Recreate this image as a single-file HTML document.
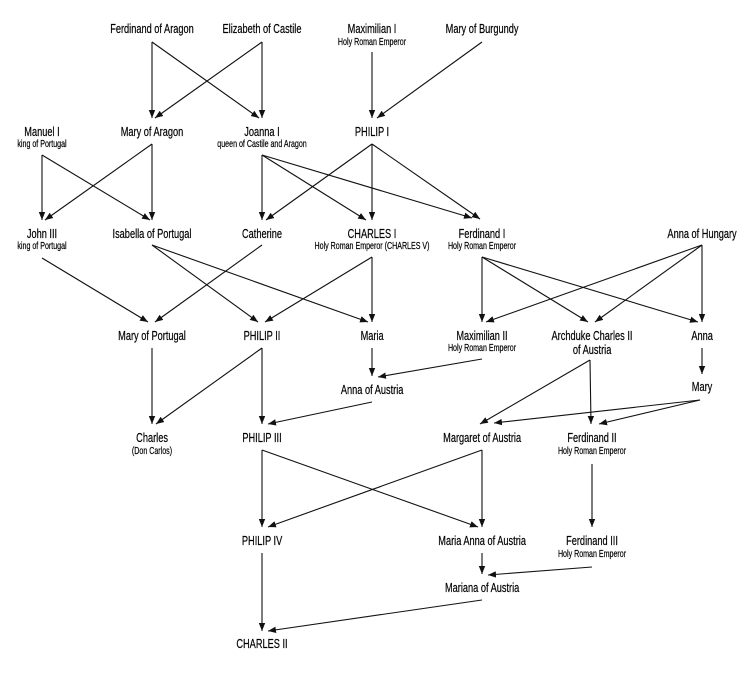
<!DOCTYPE html>
<html><head><meta charset="utf-8"><style>
html,body{margin:0;padding:0;background:#fff;}
svg{display:block;}
text{font-family:"Liberation Sans",sans-serif;fill:#000;text-anchor:middle;transform-box:fill-box;transform-origin:center;transform:scaleX(0.71);stroke:#000;stroke-width:0.2;}
.m{font-size:13px;}
.s{font-size:10px;}
line{stroke:#111;stroke-width:1.1;marker-end:url(#a);}
</style></head><body>
<svg width="750" height="677" viewBox="0 0 750 677" xmlns="http://www.w3.org/2000/svg">
<defs><marker id="a" viewBox="0 0 10 10" refX="10" refY="5" markerWidth="8" markerHeight="8" orient="auto" markerUnits="userSpaceOnUse"><path d="M0,1 L10,5 L0,9 z" fill="#111"/></marker></defs>

<line x1="152" y1="42" x2="152" y2="118"/>
<line x1="152" y1="42" x2="259" y2="118"/>
<line x1="262" y1="42" x2="155" y2="118"/>
<line x1="262" y1="42" x2="262" y2="118"/>
<line x1="372" y1="52" x2="372" y2="118"/>
<line x1="482" y1="42" x2="377" y2="118"/>

<line x1="42" y1="155" x2="42" y2="220"/>
<line x1="42" y1="155" x2="150" y2="220"/>
<line x1="152" y1="144" x2="45" y2="220"/>
<line x1="152" y1="144" x2="152" y2="220"/>
<line x1="262" y1="155" x2="262" y2="220"/>
<line x1="262" y1="155" x2="366" y2="220"/>
<line x1="262" y1="155" x2="472" y2="218"/>
<line x1="372" y1="144" x2="266" y2="220"/>
<line x1="372" y1="144" x2="372" y2="220"/>
<line x1="372" y1="144" x2="480" y2="219"/>

<line x1="42" y1="258" x2="148" y2="322"/>
<line x1="152" y1="245" x2="258" y2="322"/>
<line x1="152" y1="245" x2="368" y2="322"/>
<line x1="262" y1="245" x2="155" y2="322"/>
<line x1="372" y1="257" x2="265" y2="322"/>
<line x1="372" y1="257" x2="372" y2="322"/>
<line x1="482" y1="257" x2="482" y2="322"/>
<line x1="482" y1="257" x2="588" y2="322"/>
<line x1="482" y1="257" x2="698" y2="322"/>
<line x1="702" y1="245" x2="486" y2="322"/>
<line x1="702" y1="245" x2="595" y2="322"/>
<line x1="702" y1="245" x2="702" y2="322"/>

<line x1="372" y1="348" x2="372" y2="376"/>
<line x1="482" y1="359" x2="378" y2="377"/>
<line x1="702" y1="348" x2="702" y2="374"/>
<line x1="590" y1="360" x2="480" y2="424"/>
<line x1="590" y1="360" x2="591" y2="424"/>
<line x1="700" y1="400" x2="494" y2="423"/>
<line x1="700" y1="400" x2="599" y2="424"/>
<line x1="152" y1="348" x2="152" y2="424"/>
<line x1="262" y1="348" x2="156" y2="424"/>
<line x1="262" y1="348" x2="262" y2="424"/>
<line x1="372" y1="402" x2="268" y2="424"/>

<line x1="262" y1="450" x2="262" y2="527"/>
<line x1="262" y1="450" x2="478" y2="527"/>
<line x1="482" y1="450" x2="268" y2="527"/>
<line x1="482" y1="450" x2="482" y2="527"/>
<line x1="592" y1="464" x2="592" y2="527"/>
<line x1="482" y1="553" x2="482" y2="574"/>
<line x1="592" y1="567" x2="488" y2="575"/>
<line x1="262" y1="553" x2="262" y2="631"/>
<line x1="482" y1="600" x2="268" y2="631"/>

<text class="m" x="152" y="33">Ferdinand of Aragon</text>
<text class="m" x="262" y="33">Elizabeth of Castile</text>
<text class="m" x="372" y="33">Maximilian I</text>
<text class="s" x="372" y="45">Holy Roman Emperor</text>
<text class="m" x="482" y="33">Mary of Burgundy</text>

<text class="m" x="42" y="136">Manuel I</text>
<text class="s" x="42" y="147">king of Portugal</text>
<text class="m" x="152" y="136">Mary of Aragon</text>
<text class="m" x="262" y="136">Joanna I</text>
<text class="s" x="262" y="147">queen of Castile and Aragon</text>
<text class="m" x="372" y="136">PHILIP I</text>

<text class="m" x="42" y="238">John III</text>
<text class="s" x="42" y="249">king of Portugal</text>
<text class="m" x="152" y="238">Isabella of Portugal</text>
<text class="m" x="262" y="238">Catherine</text>
<text class="m" x="372" y="238">CHARLES I</text>
<text class="s" x="372" y="249">Holy Roman Emperor (CHARLES V)</text>
<text class="m" x="482" y="238">Ferdinand I</text>
<text class="s" x="482" y="249">Holy Roman Emperor</text>
<text class="m" x="702" y="238">Anna of Hungary</text>

<text class="m" x="152" y="340">Mary of Portugal</text>
<text class="m" x="262" y="340">PHILIP II</text>
<text class="m" x="372" y="340">Maria</text>
<text class="m" x="482" y="340">Maximilian II</text>
<text class="s" x="482" y="351">Holy Roman Emperor</text>
<text class="m" x="592" y="340">Archduke Charles II</text>
<text class="m" x="592" y="354">of Austria</text>
<text class="m" x="702" y="340">Anna</text>

<text class="m" x="372" y="394">Anna of Austria</text>
<text class="m" x="702" y="391">Mary</text>

<text class="m" x="152" y="442">Charles</text>
<text class="s" x="152" y="454">(Don Carlos)</text>
<text class="m" x="262" y="442">PHILIP III</text>
<text class="m" x="482" y="442">Margaret of Austria</text>
<text class="m" x="592" y="442">Ferdinand II</text>
<text class="s" x="592" y="454">Holy Roman Emperor</text>

<text class="m" x="262" y="545">PHILIP IV</text>
<text class="m" x="482" y="545">Maria Anna of Austria</text>
<text class="m" x="592" y="545">Ferdinand III</text>
<text class="s" x="592" y="557">Holy Roman Emperor</text>

<text class="m" x="482" y="592">Mariana of Austria</text>
<text class="m" x="262" y="648">CHARLES II</text>
</svg>
</body></html>
